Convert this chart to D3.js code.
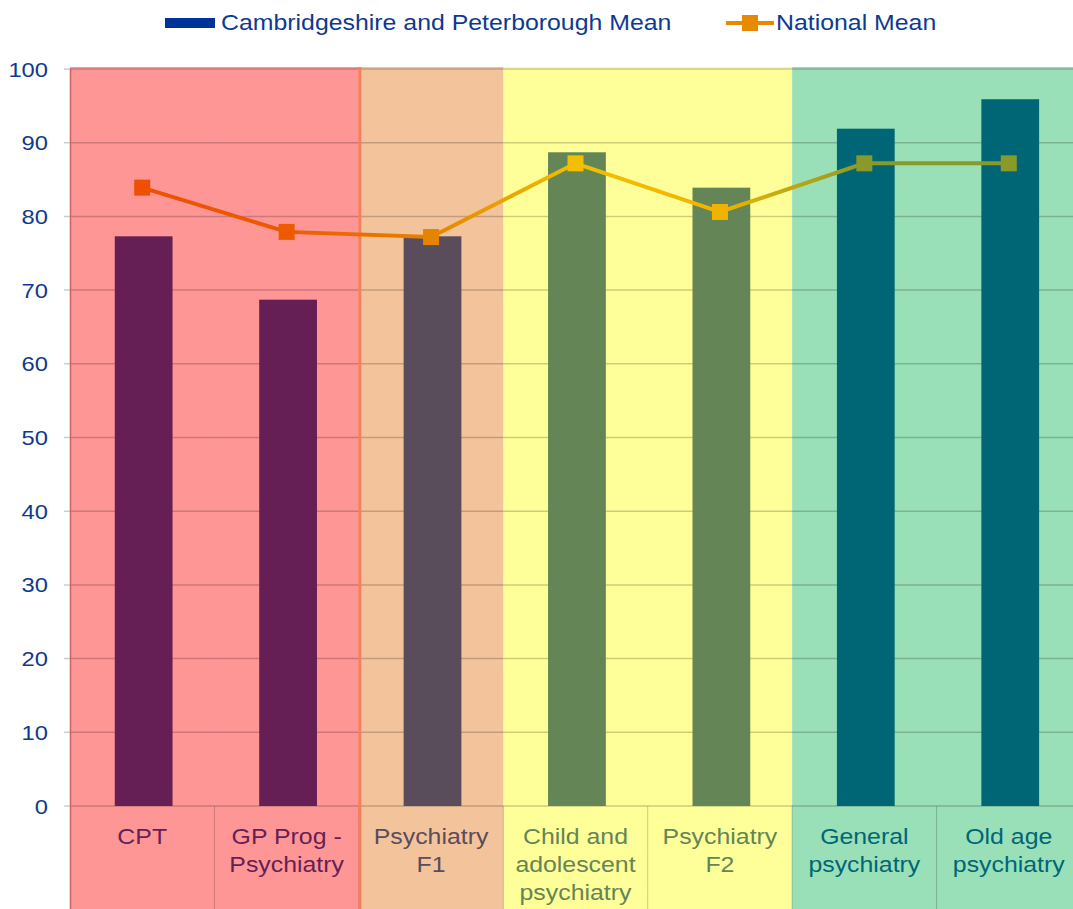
<!DOCTYPE html>
<html>
<head>
<meta charset="utf-8">
<script src="https://cdnjs.cloudflare.com/ajax/libs/d3/7.8.5/d3.min.js"></script>
<style>
  html, body { margin: 0; padding: 0; background: #fff; }
  svg { display: block; font-family: "Liberation Sans", Arial, sans-serif; }
</style>
</head>
<body>
<div id="chart"></div>
<script>
const categories = ['CPT', 'GP Prog - Psychiatry', 'Psychiatry F1', 'Child and adolescent psychiatry', 'Psychiatry F2', 'General psychiatry', 'Old age psychiatry'];
const categoryLines = [['CPT'], ['GP Prog -', 'Psychiatry'], ['Psychiatry', 'F1'], ['Child and', 'adolescent', 'psychiatry'], ['Psychiatry', 'F2'], ['General', 'psychiatry'], ['Old age', 'psychiatry']];
const localMean = [77.3, 68.7, 77.3, 88.7, 83.9, 91.9, 95.9];
const nationalMean = [83.9, 77.9, 77.2, 87.2, 80.6, 87.2, 87.2];
const yTicks = [0, 10, 20, 30, 40, 50, 60, 70, 80, 90, 100];
const seriesNames = ['Cambridgeshire and Peterborough Mean', 'National Mean'];

// colour per category (background band, bar, label, line)
const bandFill = ['#ff9696', '#ff9696', '#f3c49b', '#ffff99', '#ffff99', '#99e0b9', '#99e0b9'];
const barFill = ['#661f55', '#661f55', '#594c5b', '#648555', '#648555', '#006675', '#006675'];
const labelFill = ['#661f55', '#661f55', '#594c5b', '#648555', '#648555', '#006675', '#006675'];
const lineFill = ['#ee5000', '#ee5a00', '#e48400', '#f2c000', '#f0b400', '#8a9a28', '#8a9a28'];

const width = 1073, height = 909;
const margin = { left: 70, top: 69, bottom: 103 };
const plotRight = 1081;
const stretch = 1.13; // text in the original is a bit wider than Arial

const svg = d3.select('#chart')
  .append('svg')
  .attr('width', width)
  .attr('height', height)
  ;

const x = d3.scaleBand()
  .domain(categories)
  .range([margin.left, plotRight])
  .paddingInner(0)
  .paddingOuter(0)
  ;

const y = d3.scaleLinear()
  .domain([0, 100])
  .range([height - margin.bottom, margin.top])
  ;

const bw = x.bandwidth();

// background bands, one per category, covering plot + label area
svg.append('g')
  .selectAll('rect')
  .data(categories)
  .join('rect')
  .attr('x', d => x(d))
  .attr('y', y(100) - 2)
  .attr('width', bw + 0.5)
  .attr('height', height - y(100) + 2)
  .attr('fill', (d, i) => bandFill[i])
  ;

// gridlines
svg.append('g')
  .selectAll('line')
  .data(yTicks)
  .join('line')
  .attr('x1', margin.left - 6)
  .attr('x2', plotRight)
  .attr('y1', d => y(d))
  .attr('y2', d => y(d))
  .attr('stroke', '#000')
  .attr('stroke-opacity', 0.2)
  .attr('stroke-width', 1.5)
  ;

// vertical separators in label area, and colour boundaries
svg.append('g')
  .selectAll('line')
  .data(categories.slice(1))
  .join('line')
  .attr('x1', d => x(d))
  .attr('x2', d => x(d))
  .attr('y1', y(0))
  .attr('y2', height)
  .attr('stroke', '#000')
  .attr('stroke-opacity', 0.2)
  ;

svg.append('line')
  .attr('x1', margin.left + 0.5)
  .attr('x2', margin.left + 0.5)
  .attr('y1', y(100))
  .attr('y2', height)
  .attr('stroke', '#c86464')
  .attr('stroke-width', 1.5)
  ;

svg.append('line')
  .attr('x1', x(categories[2]) + 1)
  .attr('x2', x(categories[2]) + 1)
  .attr('y1', y(100) - 2)
  .attr('y2', height)
  .attr('stroke', '#f4805c')
  .attr('stroke-width', 3)
  ;

// bars
svg.append('g')
  .selectAll('rect')
  .data(localMean)
  .join('rect')
  .attr('x', (d, i) => x(categories[i]) + bw * 0.31)
  .attr('y', d => y(d))
  .attr('width', bw * 0.4)
  .attr('height', d => y(0) - y(d))
  .attr('fill', (d, i) => barFill[i])
  ;

// y axis labels
svg.append('g')
  .selectAll('text')
  .data(yTicks)
  .join('text')
  .attr('transform', d => `translate(48,${y(d)}) scale(${stretch},1)`)
  .attr('dy', '0.36em')
  .attr('text-anchor', 'end')
  .attr('fill', '#0d3a8f')
  .style('font-size', '21px')
  .text(d => d)
  ;

// category labels
svg.append('g')
  .selectAll('text')
  .data(categories)
  .join('text')
  .attr('transform', d => `translate(${x(d) + bw / 2},${y(0) + 38}) scale(${stretch},1)`)
  .attr('text-anchor', 'middle')
  .attr('fill', (d, i) => labelFill[i])
  .style('font-size', '22px')
  .each(function(d, i) {
    d3.select(this)
      .selectAll('tspan')
      .data(categoryLines[i])
      .join('tspan')
      .attr('x', 0)
      .attr('dy', (t, j) => j === 0 ? 0 : 28)
      .text(t => t);
  })
  ;

// national mean line with colour gradient
const grad = svg.append('defs')
  .append('linearGradient')
  .attr('id', 'lineGrad')
  .attr('gradientUnits', 'userSpaceOnUse')
  .attr('x1', margin.left)
  .attr('x2', plotRight)
  .attr('y1', 0)
  .attr('y2', 0)
  ;

grad.selectAll('stop')
  .data(categories)
  .join('stop')
  .attr('offset', d => (x(d) + bw / 2 - margin.left) / (plotRight - margin.left))
  .attr('stop-color', (d, i) => lineFill[i])
  ;

const line = d3.line()
  .x((d, i) => x(categories[i]) + bw / 2)
  .y(d => y(d))
  ;

svg.append('path')
  .datum(nationalMean)
  .attr('d', line)
  .attr('fill', 'none')
  .attr('stroke', 'url(#lineGrad)')
  .attr('stroke-width', 4)
  ;

svg.append('g')
  .selectAll('rect')
  .data(nationalMean)
  .join('rect')
  .attr('x', (d, i) => x(categories[i]) + bw / 2 - 8)
  .attr('y', d => y(d) - 8)
  .attr('width', 16)
  .attr('height', 16)
  .attr('fill', (d, i) => lineFill[i])
  ;

// legend
const legend = svg.append('g');

legend.append('rect')
  .attr('x', 165)
  .attr('y', 18)
  .attr('width', 50)
  .attr('height', 10)
  .attr('fill', '#003399')
  ;

legend.append('text')
  .attr('transform', `translate(221,30) scale(${stretch},1)`)
  .attr('fill', '#0d3a8f')
  .style('font-size', '22px')
  .text(seriesNames[0])
  ;

legend.append('line')
  .attr('x1', 726)
  .attr('x2', 774)
  .attr('y1', 23)
  .attr('y2', 23)
  .attr('stroke', '#e88a00')
  .attr('stroke-width', 4)
  ;

legend.append('rect')
  .attr('x', 742)
  .attr('y', 15)
  .attr('width', 16)
  .attr('height', 16)
  .attr('fill', '#e88a00')
  ;

legend.append('text')
  .attr('transform', `translate(776,30) scale(${stretch},1)`)
  .attr('fill', '#0d3a8f')
  .style('font-size', '22px')
  .text(seriesNames[1])
  ;
</script>
</body>
</html>
